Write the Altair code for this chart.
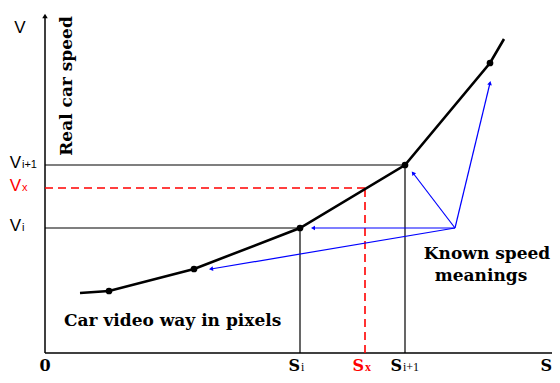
import math
import altair as alt
import pandas as pd

# ---- values (S = video way in pixels, V = real speed) ----
curve_s = [35, 64, 149, 255, 360, 445, 459]
curve_v = [60, 62, 84, 125, 188, 290, 314]
known_points = [1, 2, 3, 4, 5]

s_i, s_next, s_x = 255, 360, 320
v_i, v_next, v_x = 125, 188, 165

s_end = 507
v_end = 341

source_s, source_v = 410, 125
target_s = [445, 368, 268, 166]
target_v = [270, 180, 125, 84]

X_DOMAIN = [-37, 507]
Y_DOMAIN = [-22, 345]


def X(field="x"):
    return alt.X(f"{field}:Q", scale=alt.Scale(domain=X_DOMAIN, nice=False, zero=False), axis=None)


def Y(field="y"):
    return alt.Y(f"{field}:Q", scale=alt.Scale(domain=Y_DOMAIN, nice=False, zero=False), axis=None)


# axes
axes_df = pd.DataFrame({"x": [0, 0], "x2": [s_end, 0], "y": [0, 0], "y2": [0, v_end - 4]})
axes = alt.Chart(axes_df).mark_rule(color="black", strokeWidth=1.5).encode(
    x=X(), x2="x2:Q", y=Y(), y2="y2:Q")
y_arrow = alt.Chart(pd.DataFrame({"x": [0], "y": [v_end - 4]})).mark_point(
    shape="triangle-up", filled=True, color="black", size=30, opacity=1).encode(x=X(), y=Y())

# reference lines
ref_df = pd.DataFrame({
    "x": [0, 0, s_i, s_next],
    "x2": [s_i, s_next, s_i, s_next],
    "y": [v_i, v_next, 0, 0],
    "y2": [v_i, v_next, v_i, v_next],
})
refs = alt.Chart(ref_df).mark_rule(color="black", strokeWidth=1.2).encode(
    x=X(), x2="x2:Q", y=Y(), y2="y2:Q")

red_df = pd.DataFrame({"x": [0, s_x], "x2": [s_x, s_x], "y": [v_x, 0], "y2": [v_x, v_x]})
reds = alt.Chart(red_df).mark_rule(color="#ff0000", strokeWidth=1.6, strokeDash=[8, 5]).encode(
    x=X(), x2="x2:Q", y=Y(), y2="y2:Q")

# blue arrows
arrow_df = pd.DataFrame({
    "x": [source_s] * len(target_s), "y": [source_v] * len(target_s),
    "x2": target_s, "y2": target_v,
})
arrow_df["ang"] = [
    (math.degrees(math.atan2(tx - source_s, ty - source_v)) + 360) % 360
    for tx, ty in zip(target_s, target_v)
]
arrows = alt.Chart(arrow_df).mark_rule(color="#0000ff", strokeWidth=1.2).encode(
    x=X(), x2="x2:Q", y=Y(), y2="y2:Q")
heads = alt.Chart(arrow_df).mark_point(
    shape="triangle-up", filled=True, color="#0000ff", size=22, opacity=1).encode(
    x=X("x2"), y=Y("y2"), angle=alt.Angle("ang:Q", scale=None))

# curve
curve_df = pd.DataFrame({"x": curve_s, "y": curve_v, "i": list(range(len(curve_s)))})
curve = alt.Chart(curve_df).mark_line(color="black", strokeWidth=2.6).encode(
    x=X(), y=Y(), order="i:Q")
pts_df = curve_df.iloc[known_points]
pts = alt.Chart(pts_df).mark_point(shape="circle", filled=True, color="black", size=45, opacity=1).encode(
    x=X(), y=Y())


def txt(text, x, y, **kw):
    df = pd.DataFrame({"x": [x], "y": [y], "t": [text]})
    return alt.Chart(df).mark_text(**kw).encode(x=X(), y=Y(), text="t:N")


SERIF = "DejaVu Serif"
SANS = "Liberation Sans"
bold17 = dict(font=SERIF, fontSize=17, fontWeight="bold", color="black", baseline="alphabetic")

texts = [
    txt("Real car speed", 27, 267, angle=270, align="center", **bold17),
    txt("Car video way in pixels", 19, 27, align="left", **bold17),
    txt("Known speed", 442, 94, align="center", **bold17),
    txt("meanings", 436, 72, align="center", **bold17),
]

# y labels
vlab = dict(font=SANS, fontSize=17, color="black", baseline="alphabetic", dy=3)
vsub = dict(font=SANS, fontSize=11, color="black", baseline="alphabetic", dy=3)
texts += [
    txt("V", -25, 320, align="center", font=SANS, fontSize=17, color="black", baseline="alphabetic"),
    txt("V", -24, v_next, align="right", **vlab),
    txt("i+1", -23, v_next, align="left", **vsub),
    txt("V", -24, v_i, align="right", **vlab),
    txt("i", -23, v_i, align="left", **vsub),
    txt("V", -24, v_x, align="right", **{**vlab, "color": "#ff0000"}),
    txt("x", -23, v_x, align="left", **{**vsub, "color": "#ff0000"}),
]

# x labels
slab = dict(font=SERIF, fontSize=16, fontWeight="bold", color="black", baseline="alphabetic")
ssub = dict(font="Liberation Serif", fontSize=12, color="black", baseline="alphabetic")
XLAB_Y = -18
texts += [
    txt("0", 0, XLAB_Y, align="center", **slab),
    txt("S", s_i, XLAB_Y, align="right", **slab),
    txt("i", s_i + 1, XLAB_Y, align="left", **ssub),
    txt("S", s_x - 1, XLAB_Y, align="right", **{**slab, "color": "#ff0000"}),
    txt("x", s_x, XLAB_Y, align="left", **{**ssub, "color": "#ff0000", "fontWeight": "bold"}),
    txt("S", s_next - 3, XLAB_Y, align="right", **slab),
    txt("i+1", s_next - 2, XLAB_Y, align="left", **ssub),
    txt("S", s_end, XLAB_Y, align="right", **slab),
]

chart = alt.layer(axes, y_arrow, refs, reds, arrows, heads, curve, pts, *texts).properties(
    width=544, height=367, autosize="none", padding=0, background="white"
).configure_view(stroke=None)

chart.save("out.html", embed_options={"renderer": "svg", "actions": False})
